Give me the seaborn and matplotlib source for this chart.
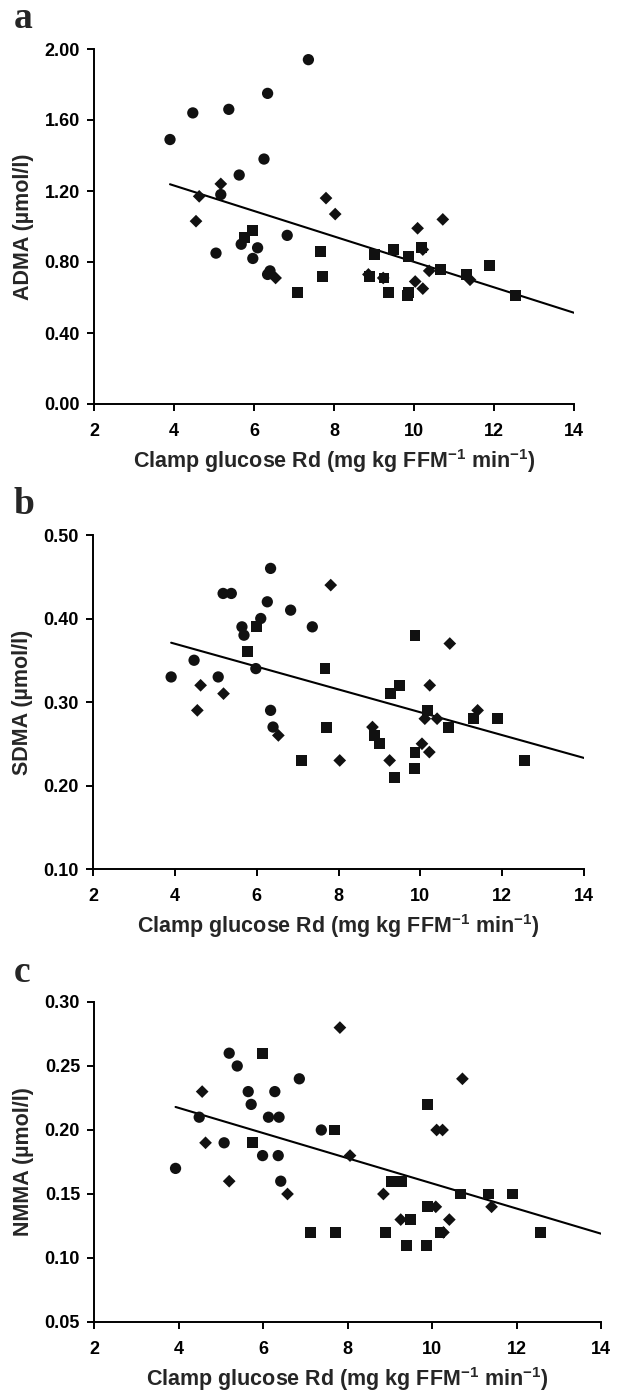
import numpy as np
import pandas as pd
import matplotlib
matplotlib.use("Agg")
import matplotlib.pyplot as plt
import seaborn as sns

# ---------------- data ----------------
# Panel a: ADMA
a_circle_x = [3.90, 4.47, 5.37, 6.34, 7.36, 6.25, 5.63, 5.17, 5.05, 5.68, 6.09, 5.97, 6.83, 6.34, 6.40]
a_circle_y = [1.49, 1.64, 1.66, 1.75, 1.94, 1.38, 1.29, 1.18, 0.85, 0.90, 0.88, 0.82, 0.95, 0.73, 0.75]
a_square_x = [5.97, 5.76, 7.67, 7.71, 7.09, 9.01, 9.48, 9.86, 10.18, 8.88, 9.25, 9.36, 9.86, 9.83, 10.67, 11.31, 11.89, 12.54]
a_square_y = [0.98, 0.94, 0.86, 0.72, 0.63, 0.84, 0.87, 0.83, 0.88, 0.72, 0.71, 0.63, 0.63, 0.61, 0.76, 0.73, 0.78, 0.61]
a_diamond_x = [5.17, 4.63, 4.55, 7.80, 8.03, 6.54, 10.09, 10.72, 8.86, 9.23, 10.03, 10.22, 10.38, 10.22, 11.40]
a_diamond_y = [1.24, 1.17, 1.03, 1.16, 1.07, 0.71, 0.99, 1.04, 0.73, 0.71, 0.69, 0.65, 0.75, 0.87, 0.70]
a_fit_x = [3.90, 14.0]          # regression line
a_fit_y = [1.238, 0.514]

# Panel b: SDMA
b_circle_x = [3.91, 4.47, 5.06, 5.18, 5.38, 6.34, 6.26, 6.10, 5.64, 5.69, 6.83, 7.36, 5.98, 6.34, 6.40]
b_circle_y = [0.33, 0.35, 0.33, 0.43, 0.43, 0.46, 0.42, 0.40, 0.39, 0.38, 0.41, 0.39, 0.34, 0.29, 0.27]
b_square_x = [5.99, 5.77, 7.67, 7.71, 7.10, 9.87, 9.50, 9.26, 10.18, 11.31, 11.89, 10.68, 8.89, 9.01, 9.87, 9.85, 9.38, 12.54]
b_square_y = [0.39, 0.36, 0.34, 0.27, 0.23, 0.38, 0.32, 0.31, 0.29, 0.28, 0.28, 0.27, 0.26, 0.25, 0.24, 0.22, 0.21, 0.23]
b_diamond_x = [7.81, 4.63, 5.19, 4.55, 6.53, 8.03, 10.72, 10.23, 11.40, 10.11, 10.41, 8.83, 10.04, 10.22, 9.25]
b_diamond_y = [0.44, 0.32, 0.31, 0.29, 0.26, 0.23, 0.37, 0.32, 0.29, 0.28, 0.28, 0.27, 0.25, 0.24, 0.23]
b_fit_x = [3.91, 14.0]
b_fit_y = [0.371, 0.233]

# Panel c: NMMA
c_circle_x = [3.93, 4.49, 5.08, 5.20, 5.39, 5.65, 5.72, 6.13, 6.38, 6.28, 6.86, 5.99, 6.36, 6.42, 7.38]
c_circle_y = [0.17, 0.21, 0.19, 0.26, 0.25, 0.23, 0.22, 0.21, 0.21, 0.23, 0.24, 0.18, 0.18, 0.16, 0.20]
c_square_x = [5.98, 5.76, 7.70, 7.13, 7.72, 9.89, 9.05, 9.28, 10.68, 11.33, 11.90, 9.89, 9.50, 8.91, 10.19, 9.40, 9.86, 12.56]
c_square_y = [0.26, 0.19, 0.20, 0.12, 0.12, 0.22, 0.16, 0.16, 0.15, 0.15, 0.15, 0.14, 0.13, 0.12, 0.12, 0.11, 0.11, 0.12]
c_diamond_x = [4.56, 4.64, 5.20, 6.58, 7.82, 10.72, 8.06, 10.11, 10.25, 8.85, 11.41, 9.26, 10.41, 10.09, 10.27]
c_diamond_y = [0.23, 0.19, 0.16, 0.15, 0.28, 0.24, 0.18, 0.20, 0.20, 0.15, 0.14, 0.13, 0.13, 0.14, 0.12]
c_fit_x = [3.93, 14.0]
c_fit_y = [0.218, 0.119]

panel_letters = ["a", "b", "c"]
y_labels = ["ADMA (µmol/l)", "SDMA (µmol/l)", "NMMA (µmol/l)"]
y_ticks = [[0.00, 0.40, 0.80, 1.20, 1.60, 2.00],
           [0.10, 0.20, 0.30, 0.40, 0.50],
           [0.05, 0.10, 0.15, 0.20, 0.25, 0.30]]
x_ticks = [2, 4, 6, 8, 10, 12, 14]
x_label = r"Clamp glucose Rd (mg kg FFM$^{\mathbf{-1}}$ min$^{\mathbf{-1}}$)"

# ---------------- style ----------------
sns.set_style("ticks")
plt.rcParams["font.family"] = ["Liberation Sans", "DejaVu Sans"]
plt.rcParams["font.weight"] = "bold"
plt.rcParams["mathtext.fontset"] = "custom"
plt.rcParams["mathtext.rm"] = "Liberation Sans:bold"
plt.rcParams["mathtext.bf"] = "Liberation Sans:bold"
plt.rcParams["mathtext.it"] = "Liberation Sans:bold"

W, H = 619, 1392
fig = plt.figure(figsize=(W / 100, H / 100), dpi=100)

# axes boxes in pixels: left, right, top, bottom
boxes = [(94, 574, 49, 404), (93, 584, 535, 869), (94, 601, 1002, 1322)]

panels = [
    (a_circle_x, a_circle_y, a_square_x, a_square_y, a_diamond_x, a_diamond_y, a_fit_x, a_fit_y),
    (b_circle_x, b_circle_y, b_square_x, b_square_y, b_diamond_x, b_diamond_y, b_fit_x, b_fit_y),
    (c_circle_x, c_circle_y, c_square_x, c_square_y, c_diamond_x, c_diamond_y, c_fit_x, c_fit_y),
]

ink = "#111111"
for i, (cx, cy, sx, sy, dx, dy, fx, fy) in enumerate(panels):
    l, r, t, b = boxes[i]
    ax = fig.add_axes([l / W, 1 - b / H, (r - l) / W, (b - t) / H])
    df = pd.DataFrame({
        "x": cx + sx + dx,
        "y": cy + sy + dy,
        "group": ["circle"] * len(cx) + ["square"] * len(sx) + ["diamond"] * len(dx),
    })
    sns.scatterplot(data=df, x="x", y="y", style="group", size="group",
                    markers={"circle": "o", "square": "s", "diamond": "D"},
                    sizes={"circle": 66, "square": 62, "diamond": 42},
                    color=ink, edgecolor="none", linewidth=0, legend=False, ax=ax,
                    zorder=3)
    sns.lineplot(x=fx, y=fy, color="black", linewidth=1.5, ax=ax, zorder=2)

    yt = y_ticks[i]
    ax.set_xlim(x_ticks[0], x_ticks[-1])
    ax.set_ylim(yt[0], yt[-1])
    ax.set_xticks(x_ticks)
    ax.set_yticks(yt)
    ax.set_yticklabels([f"{v:.2f}" for v in yt])
    sns.despine(ax=ax)
    for side in ("left", "bottom"):
        ax.spines[side].set_linewidth(1.4)
        ax.spines[side].set_color("black")
    ax.tick_params(axis="both", direction="out", length=5, width=1.4,
                   color="black", labelsize=13, labelcolor="black")
    ax.tick_params(axis="x", pad=9)
    ax.tick_params(axis="y", pad=5)
    for lab in ax.get_xticklabels() + ax.get_yticklabels():
        lab.set_fontweight("bold")
    ax.set_xlabel(x_label, fontsize=15.5, fontweight="bold", labelpad=5)
    ax.set_ylabel(y_labels[i], fontsize=15.5, fontweight="bold", labelpad=8)
    fig.text(14 / W, 1 - (t - 30) / H, panel_letters[i], fontsize=27,
             fontweight="bold", family="Liberation Serif", va="center", ha="left")

fig.savefig("out.png", dpi=100)
